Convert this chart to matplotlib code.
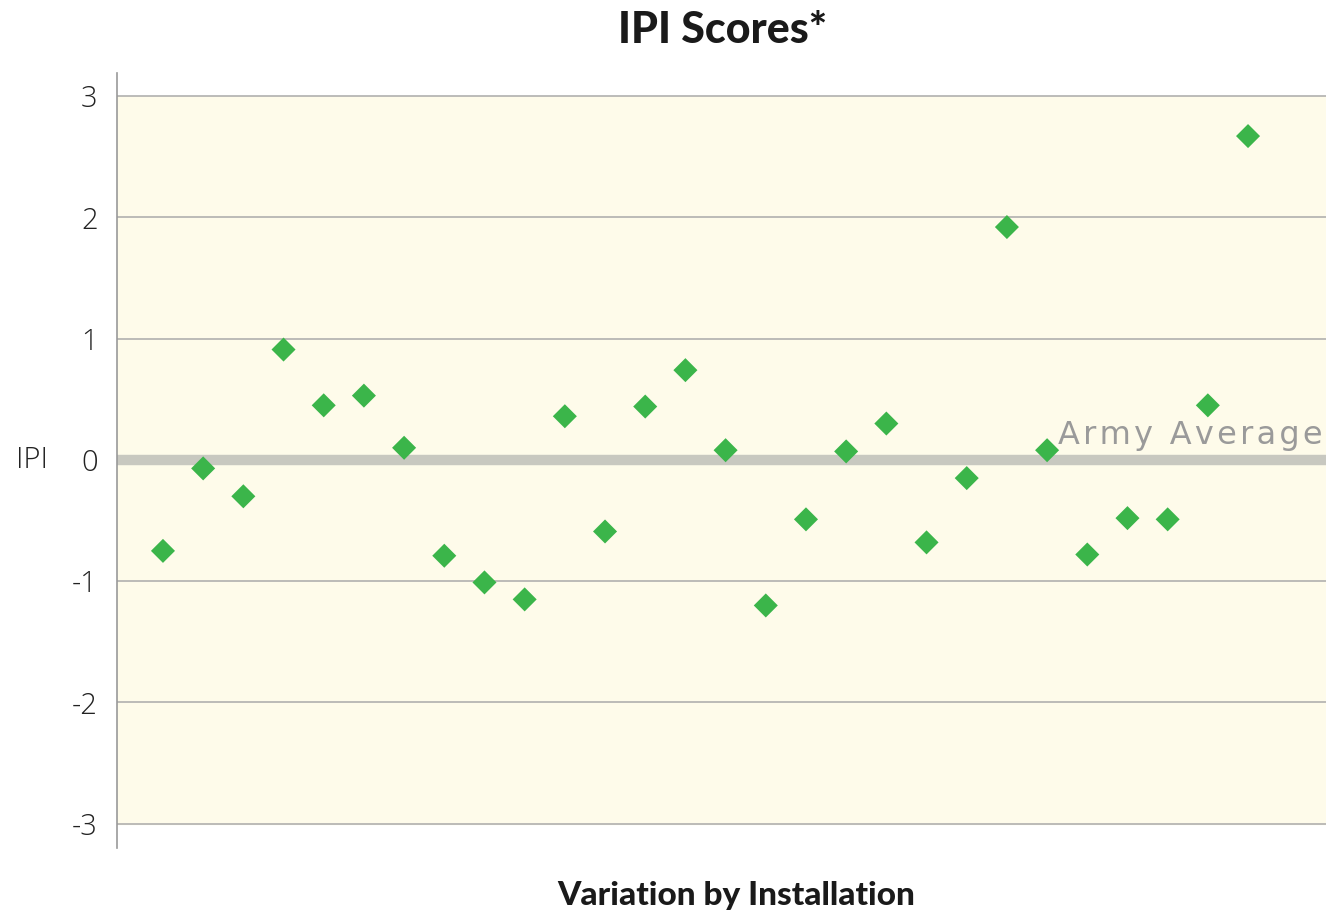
import numpy as np
import matplotlib.pyplot as plt

# installation index and IPI score
installations = list(range(1, 29))
ipi = [-0.75, -0.07, -0.30, 0.91, 0.45, 0.53, 0.10, -0.79, -1.01, -1.15,
       0.36, -0.59, 0.44, 0.74, 0.08, -1.20, -0.49, 0.07, 0.30, -0.68,
       -0.15, 1.92, 0.08, -0.78, -0.48, -0.49, 0.45, 2.67]
yticks = [-3, -2, -1, 0, 1, 2, 3]

fig = plt.figure(figsize=(13.26, 9.16), dpi=100)
ax = fig.add_axes([0.0882, 0.0742, 0.9118, 0.8461])

ax.set_xlim(-0.145, 29.94)
ax.set_ylim(-3.2, 3.19)

# cream band only between -3 and 3
ax.axhspan(-3, 3, color='#fefbea', zorder=0)
for t in yticks:
    if t == 0:
        ax.axhline(t, color='#c8c8c0', lw=7.5, zorder=1)
    else:
        ax.axhline(t, color='#aaaaaa', lw=1.1, zorder=1)

ax.scatter(installations, ipi, marker='D', s=150, color='#3bb54a',
           edgecolors='none', zorder=3)

# letter-spaced label with hair spaces
label = '\u200a'.join('Army Average')
ax.text(29.85, 0.07, label, ha='right', va='bottom',
        color='#9a9a9a', fontsize=23, family='DejaVu Sans', zorder=2)

for side in ['top', 'right', 'bottom']:
    ax.spines[side].set_visible(False)
ax.spines['left'].set_color('#999999')
ax.spines['left'].set_linewidth(1.2)

ax.set_xticks([])
ax.set_yticks(yticks)
ax.set_yticklabels([str(t) for t in yticks], fontsize=21, family='Open Sans',
                   fontweight='light', color='#222222')
ax.tick_params(axis='y', length=0, pad=14)

ax.set_ylabel('IPI', rotation=0, fontsize=21, family='Open Sans',
              fontweight='light', color='#222222', va='center')
ax.yaxis.set_label_coords(-0.07, (0 + 3.2) / 6.39)

fig.text(0.545, 0.967, 'IPI Scores*', ha='center', va='center',
         fontsize=31, family='Lato', fontweight='black', color='#1a1a1a')
fig.text(0.555, 0.022, 'Variation by Installation', ha='center', va='center',
         fontsize=24, family='Lato', fontweight='black', color='#1a1a1a')

fig.savefig('out.png', dpi=100)
